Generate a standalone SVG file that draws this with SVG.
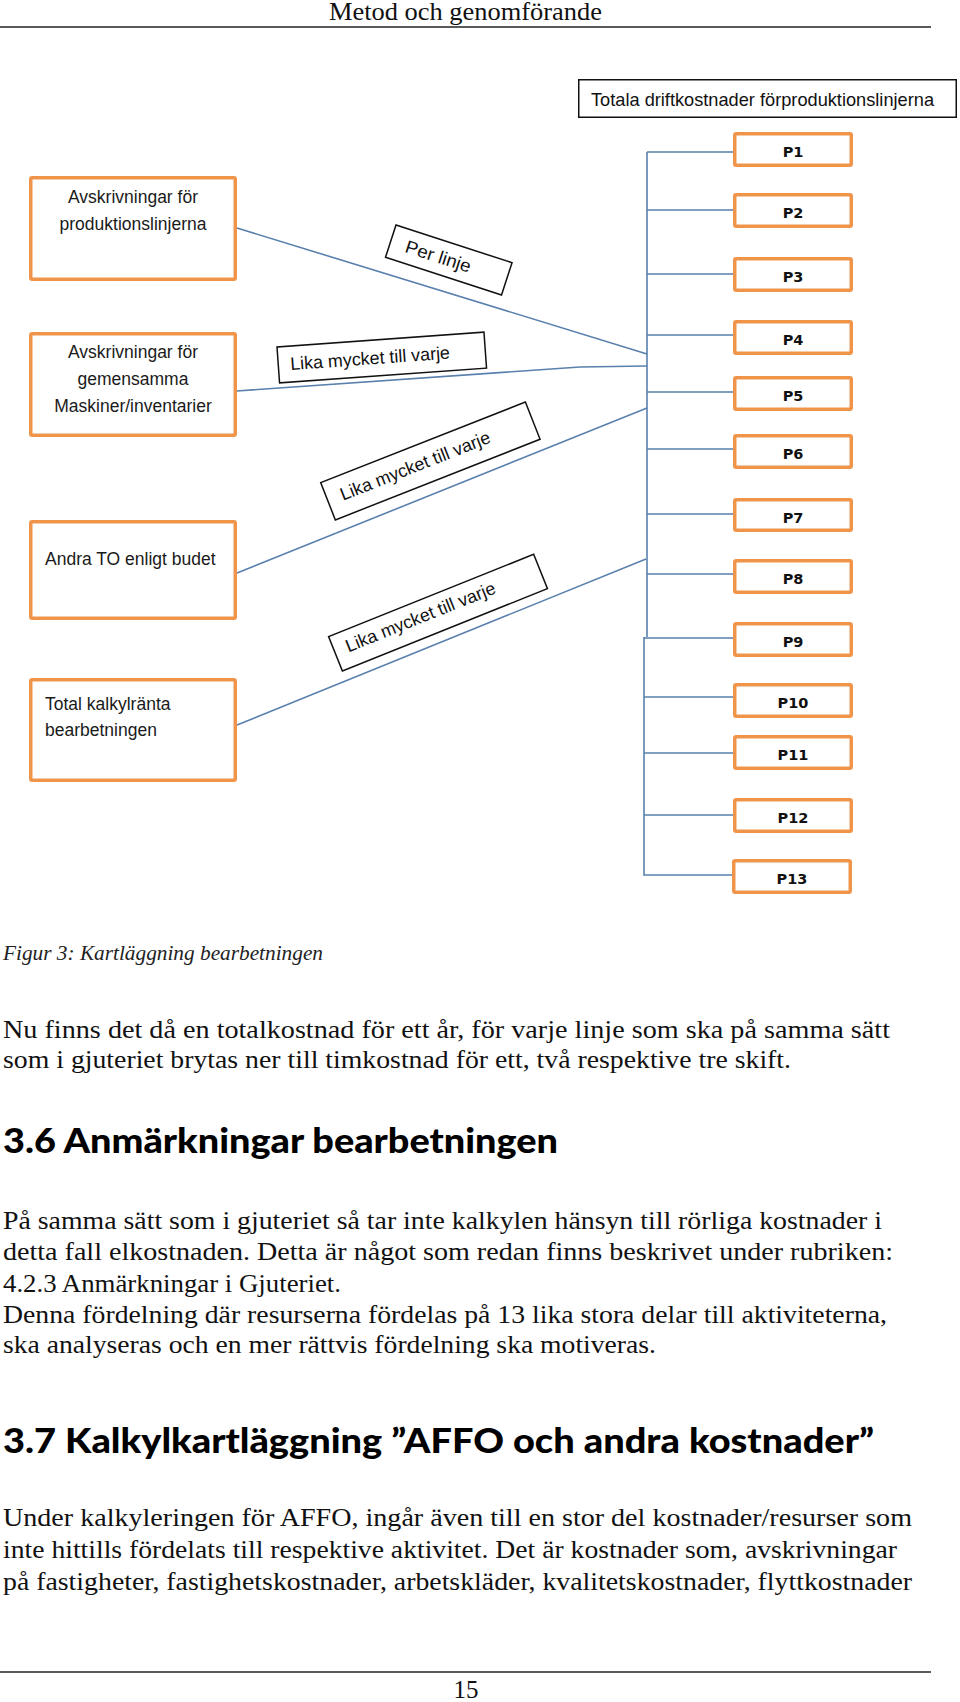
<svg xmlns="http://www.w3.org/2000/svg" width="960" height="1702" viewBox="0 0 960 1702">
<style>
.obox{fill:#fff;stroke:#F0944A;stroke-width:3.5}
.lbl{fill:#fff;stroke:#111;stroke-width:1.5}
.bt{font-family:"Liberation Sans",Arial,sans-serif;font-size:17.5px;fill:#1a1a1a}
.lt{font-family:"Liberation Sans",Arial,sans-serif;font-size:18px;fill:#111}
.pt{font-family:"DejaVu Sans",Verdana,sans-serif;font-weight:bold;font-size:14.5px;fill:#111;text-anchor:middle}
.conn{fill:none;stroke:#5A80AE;stroke-width:1.6}
.body{font-family:"Liberation Serif","Times New Roman",serif;font-size:25px;fill:#111}
.cap{font-family:"Liberation Serif","Times New Roman",serif;font-size:20px;font-style:italic;fill:#222}
.h{font-family:Lato,"Liberation Sans",Arial,sans-serif;font-weight:900;font-size:35px;fill:#000}
.rule{stroke:#222;stroke-width:1.6}
</style>

<g id="page-header">
<text class="body" x="329" y="20" textLength="273" lengthAdjust="spacingAndGlyphs">Metod och genomförande</text>
<line class="rule" x1="0" y1="27" x2="931" y2="27"/>
</g>

<g id="connectors">
<path class="conn" d="M647,152 V637 M644,637 V875 H733"/>
<path class="conn" d="M647,152 H733 M647,210 H733 M647,274 H733 M647,335 H733 M647,392 H733 M647,449 H733 M647,514 H733 M647,574 H733 M644,638 H733 M644,697 H733 M644,753 H733 M644,815 H733"/>
<path class="conn" d="M237,228 L647,354"/>
<path class="conn" d="M237,391 L580,367 L647,366"/>
<path class="conn" d="M237,573 L647,408"/>
<path class="conn" d="M237,725 L646,559"/>
</g>

<g id="total">
<rect x="578.75" y="79.75" width="377.5" height="37.5" fill="#fff" stroke="#111" stroke-width="1.5"/>
<text x="591" y="106" font-family="'Liberation Sans',Arial,sans-serif" font-size="19" fill="#111" textLength="343" lengthAdjust="spacingAndGlyphs">Totala driftkostnader  förproduktionslinjerna</text>
</g>

<g id="avskr-prod">
<rect class="obox" x="30.75" y="177.75" width="204.5" height="101.5" rx="1.5"/>
<text class="bt" x="133" y="203" text-anchor="middle">Avskrivningar för</text>
<text class="bt" x="133" y="230" text-anchor="middle">produktionslinjerna</text>
</g>
<g id="avskr-gem">
<rect class="obox" x="30.75" y="333.75" width="204.5" height="101.5" rx="1.5"/>
<text class="bt" x="133" y="358" text-anchor="middle">Avskrivningar för</text>
<text class="bt" x="133" y="385" text-anchor="middle">gemensamma</text>
<text class="bt" x="133" y="412" text-anchor="middle">Maskiner/inventarier</text>
</g>
<g id="andra-to">
<rect class="obox" x="30.75" y="521.75" width="204.5" height="96.5" rx="1.5"/>
<text class="bt" x="45" y="565">Andra TO enligt budet</text>
</g>
<g id="kalkylranta">
<rect class="obox" x="30.75" y="679.75" width="204.5" height="100.5" rx="1.5"/>
<text class="bt" x="45" y="710">Total kalkylränta</text>
<text class="bt" x="45" y="736">bearbetningen</text>
</g>

<g id="label-per-linje" transform="translate(396,225) rotate(18)">
<rect class="lbl" x="0" y="0" width="122" height="34"/>
<text class="lt" x="16" y="23" textLength="68" lengthAdjust="spacingAndGlyphs">Per linje</text>
</g>
<g id="label-lika-1" transform="translate(277,347) rotate(-4.1)">
<rect class="lbl" x="0" y="0" width="207.5" height="36"/>
<text class="lt" x="12" y="24" textLength="160" lengthAdjust="spacingAndGlyphs">Lika mycket till varje</text>
</g>
<g id="label-lika-2" transform="translate(320.7,482.7) rotate(-21.5)">
<rect class="lbl" x="0" y="0" width="220" height="40"/>
<text class="lt" x="14" y="25" textLength="160" lengthAdjust="spacingAndGlyphs">Lika mycket till varje</text>
</g>
<g id="label-lika-3" transform="translate(328.6,636.7) rotate(-21.9)">
<rect class="lbl" x="0" y="0" width="221" height="37"/>
<text class="lt" x="12.5" y="22" textLength="160" lengthAdjust="spacingAndGlyphs">Lika mycket till varje</text>
</g>

<g id="p1"><rect class="obox" x="734.75" y="133.75" width="116.5" height="31.5" rx="1.5"/><text class="pt" x="793" y="157">P1</text></g>
<g id="p2"><rect class="obox" x="734.75" y="194.75" width="116.5" height="31.5" rx="1.5"/><text class="pt" x="793" y="218">P2</text></g>
<g id="p3"><rect class="obox" x="734.75" y="258.75" width="116.5" height="31.5" rx="1.5"/><text class="pt" x="793" y="282">P3</text></g>
<g id="p4"><rect class="obox" x="734.75" y="321.75" width="116.5" height="31.5" rx="1.5"/><text class="pt" x="793" y="345">P4</text></g>
<g id="p5"><rect class="obox" x="734.75" y="377.75" width="116.5" height="31.5" rx="1.5"/><text class="pt" x="793" y="401">P5</text></g>
<g id="p6"><rect class="obox" x="734.75" y="435.75" width="116.5" height="31.5" rx="1.5"/><text class="pt" x="793" y="459">P6</text></g>
<g id="p7"><rect class="obox" x="734.75" y="499.75" width="116.5" height="30.5" rx="1.5"/><text class="pt" x="793" y="523">P7</text></g>
<g id="p8"><rect class="obox" x="734.75" y="560.75" width="116.5" height="31.5" rx="1.5"/><text class="pt" x="793" y="584">P8</text></g>
<g id="p9"><rect class="obox" x="734.75" y="623.75" width="116.5" height="31.5" rx="1.5"/><text class="pt" x="793" y="647">P9</text></g>
<g id="p10"><rect class="obox" x="734.75" y="684.75" width="116.5" height="31.5" rx="1.5"/><text class="pt" x="793" y="708">P10</text></g>
<g id="p11"><rect class="obox" x="734.75" y="736.75" width="116.5" height="31.5" rx="1.5"/><text class="pt" x="793" y="760">P11</text></g>
<g id="p12"><rect class="obox" x="734.75" y="799.75" width="116.5" height="31.5" rx="1.5"/><text class="pt" x="793" y="823">P12</text></g>
<g id="p13"><rect class="obox" x="733.75" y="860.75" width="116.5" height="31.5" rx="1.5"/><text class="pt" x="792" y="884">P13</text></g>

<g id="caption">
<text class="cap" x="3" y="960" textLength="320" lengthAdjust="spacingAndGlyphs">Figur 3: Kartläggning bearbetningen</text>
</g>

<g id="text-body">
<text class="body" x="3" y="1038" textLength="887" lengthAdjust="spacingAndGlyphs">Nu finns det då en totalkostnad för ett år, för varje linje som ska på samma sätt</text>
<text class="body" x="3" y="1068" textLength="788" lengthAdjust="spacingAndGlyphs">som i gjuteriet brytas ner till timkostnad för ett, två respektive tre skift.</text>
<text class="h" x="3" y="1153" textLength="555" lengthAdjust="spacingAndGlyphs">3.6  Anmärkningar bearbetningen</text>
<text class="body" x="3" y="1229" textLength="879" lengthAdjust="spacingAndGlyphs">På samma sätt som i gjuteriet så tar inte kalkylen hänsyn till rörliga kostnader i</text>
<text class="body" x="3" y="1260" textLength="890" lengthAdjust="spacingAndGlyphs">detta fall elkostnaden. Detta är något som redan finns beskrivet under rubriken:</text>
<text class="body" x="3" y="1292" textLength="338" lengthAdjust="spacingAndGlyphs">4.2.3 Anmärkningar i Gjuteriet.</text>
<text class="body" x="3" y="1323" textLength="884" lengthAdjust="spacingAndGlyphs">Denna fördelning där resurserna fördelas på 13 lika stora delar till aktiviteterna,</text>
<text class="body" x="3" y="1353" textLength="653" lengthAdjust="spacingAndGlyphs">ska analyseras och en mer rättvis fördelning ska motiveras.</text>
<text class="h" x="3" y="1453" textLength="871" lengthAdjust="spacingAndGlyphs">3.7  Kalkylkartläggning ”AFFO och andra kostnader”</text>
<text class="body" x="3" y="1526" textLength="909" lengthAdjust="spacingAndGlyphs">Under kalkyleringen för AFFO, ingår även till en stor del kostnader/resurser som</text>
<text class="body" x="3" y="1558" textLength="894" lengthAdjust="spacingAndGlyphs">inte hittills fördelats till respektive aktivitet. Det är kostnader som, avskrivningar</text>
<text class="body" x="3" y="1590" textLength="909" lengthAdjust="spacingAndGlyphs">på fastigheter, fastighetskostnader, arbetskläder, kvalitetskostnader, flyttkostnader</text>
</g>

<g id="page-footer">
<line class="rule" x1="0" y1="1672" x2="931" y2="1672"/>
<text class="body" x="466" y="1698" text-anchor="middle">15</text>
</g>
</svg>
